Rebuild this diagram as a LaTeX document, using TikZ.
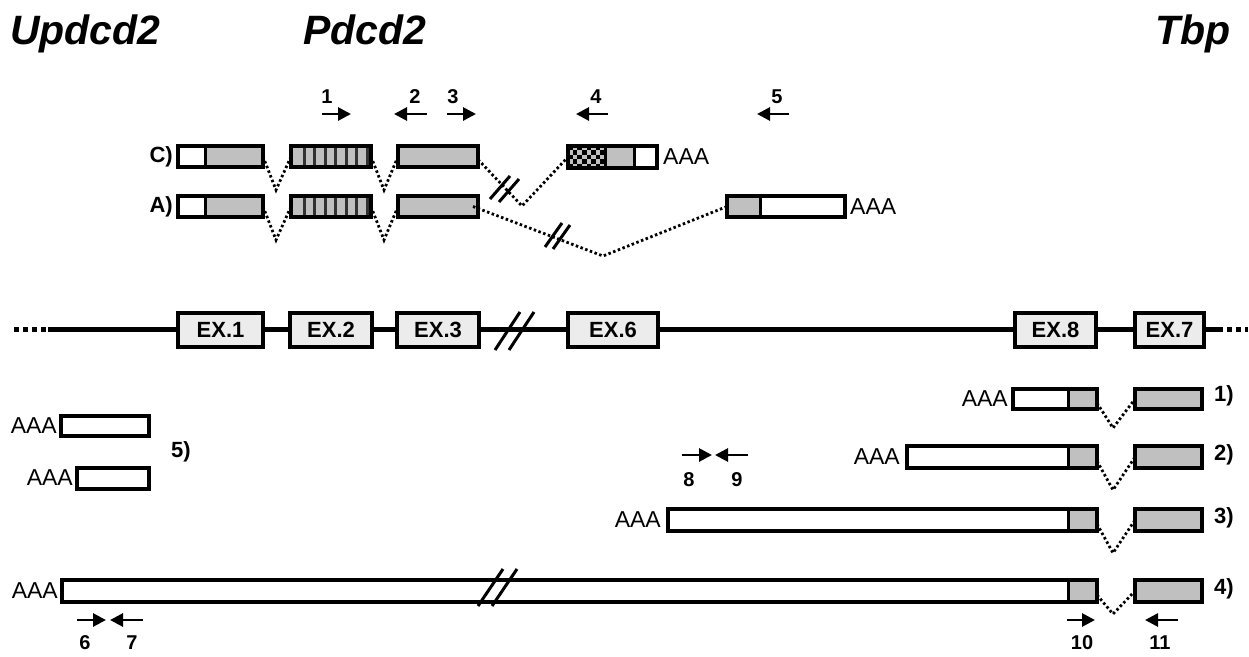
\documentclass[tikz,border=0pt]{standalone}
\usepackage{fontspec}
\setmainfont{Liberation Sans}
\usetikzlibrary{arrows.meta,fit}
\definecolor{boxgray}{RGB}{192,192,192}
\definecolor{exfill}{RGB}{236,236,236}
\definecolor{stripecol}{RGB}{50,50,50}
\begin{document}
\begin{tikzpicture}[x=1pt,y=-1pt,
  tb/.style={draw=black,line width=3.8pt,inner sep=0pt,outer sep=0pt,shape=rectangle},
  divider/.style={line width=3pt},
  exon/.style={draw=black,fill=exfill,line width=4.5pt,inner sep=0pt,outer sep=0pt,minimum height=34pt,font=\fontsize{22}{24}\selectfont\bfseries},
  splice/.style={line width=2.8pt,dash pattern=on 2.5pt off 2.5pt},
  primer/.style={line width=2.8pt,-{Triangle[length=13pt,width=13pt]}},
  num/.style={inner sep=0pt,font=\fontsize{20}{22}\selectfont\bfseries},
  lab/.style={inner sep=0pt,font=\fontsize{22}{24}\selectfont\bfseries},
  aaa/.style={inner sep=0pt,font=\fontsize{23}{25}\selectfont},
  ttl/.style={inner sep=0pt,font=\fontsize{41}{44}\selectfont\bfseries\itshape},
  brk/.style={line width=3pt},
  gline/.style={line width=5pt},
  gdots/.style={line width=5pt,dash pattern=on 5pt off 4pt}]

\useasboundingbox (0,0) rectangle (1249,656);

% ---------- titles
\node[ttl,anchor=base west] (t1) at (10,44) {Updcd2};
\node[ttl,anchor=base west] (t2) at (303,44) {Pdcd2};
\node[ttl,anchor=base east] (t3) at (1231,44) {Tbp};

% ---------- primers top
\coordinate (p1a) at (322,114); \coordinate (p1b) at (351,114);
\coordinate (p2a) at (427,114); \coordinate (p2b) at (394,114);
\coordinate (p3a) at (447,114); \coordinate (p3b) at (476,114);
\coordinate (p4a) at (608,114); \coordinate (p4b) at (576,114);
\coordinate (p5a) at (789,114); \coordinate (p5b) at (757,114);
\draw[primer] (p1a) -- (p1b);
\draw[primer] (p2a) -- (p2b);
\draw[primer] (p3a) -- (p3b);
\draw[primer] (p4a) -- (p4b);
\draw[primer] (p5a) -- (p5b);
\node[num] (n1) at (327,97) {1};
\node[num] (n2) at (415,97) {2};
\node[num] (n3) at (453,97) {3};
\node[num] (n4) at (596,97) {4};
\node[num] (n5) at (777,97) {5};

% ---------- transcript C
\fill[boxgray] (205,146) rectangle (263,167);
\fill[boxgray] (291,146) rectangle (371,167);
\foreach \x in {304,314.5,325,335.5,346,356.5,367}
  \draw[stripecol,line width=3pt] (\x,146) -- (\x,167);
\fill[boxgray] (398,146) rectangle (478,167);
\fill[boxgray] (568,146) rectangle (634,168);
\foreach \i in {0,...,7}{
  \foreach \j in {0,...,4}{
    \pgfmathtruncatemacro\pk{mod(\i+\j,2)}
    \ifnum\pk=0
      \fill[black] ({568+\i*4.625},{146+\j*4.4}) rectangle ({568+(\i+1)*4.625},{146+(\j+1)*4.4});
    \fi
  }
}
\node[tb,fit={(178,146) (263,167)}] (C1) {};
\draw[divider] (205,146) -- (205,167);
\node[tb,fit={(291,146) (371,167)}] (C2) {};
\node[tb,fit={(398,146) (478,167)}] (C3) {};
\node[tb,fit={(568,146) (657,168)}] (C4) {};
\draw[divider] (605,146) -- (605,168);
\draw[divider] (634,146) -- (634,168);
\node[aaa,anchor=west] (aC) at (663,157) {AAA};
\node[lab,anchor=east] (lC) at (173,157) {C)};

\coordinate (vC1) at (276,190);
\coordinate (vC2) at (384,190);
\coordinate (vC3) at (522,206);
\draw[splice] (C1.east) -- (vC1) -- (C2.west);
\draw[splice] (C2.east) -- (vC2) -- (C3.west);
\draw[splice] ([yshift=-3pt]C3.east) -- (vC3) -- (C4.west);
\draw[brk] (490,199) -- (510,176);
\draw[brk] (499,202) -- (519,179);

% ---------- transcript A
\fill[boxgray] (205,196) rectangle (263,217);
\fill[boxgray] (291,196) rectangle (371,217);
\foreach \x in {304,314.5,325,335.5,346,356.5,367}
  \draw[stripecol,line width=3pt] (\x,196) -- (\x,217);
\fill[boxgray] (398,196) rectangle (478,217);
\fill[boxgray] (727,196) rectangle (760,217);
\node[tb,fit={(178,196) (263,217)}] (A1) {};
\draw[divider] (205,196) -- (205,217);
\node[tb,fit={(291,196) (371,217)}] (A2) {};
\node[tb,fit={(398,196) (478,217)}] (A3) {};
\node[tb,fit={(727,196) (845,217)}] (A4) {};
\draw[divider] (760,196) -- (760,217);
\node[aaa,anchor=west] (aA) at (850,207) {AAA};
\node[lab,anchor=east] (lA) at (173,207) {A)};

\coordinate (vA1) at (276,240);
\coordinate (vA2) at (384,240);
\coordinate (vA3) at (603,256);
\draw[splice] (A1.east) -- (vA1) -- (A2.west);
\draw[splice] (A2.east) -- (vA2) -- (A3.west);
\draw[splice] ([xshift=-5pt]A3.east) -- (vA3) -- (A4.west);
\draw[brk] (545,247) -- (562,223);
\draw[brk] (553,249) -- (570,225);

% ---------- gene line
\draw[gdots] (14,329) -- (48,329);
\draw[gline] (48,329) -- (1218,329);
\draw[gdots] (1218,329) -- (1248,329);
\draw[brk] (495,350) -- (520,312);
\draw[brk] (509,350) -- (534,312);
\node[exon,minimum width=85pt] (E1) at (220.5,330) {EX.1};
\node[exon,minimum width=82pt] (E2) at (331,330) {EX.2};
\node[exon,minimum width=82pt] (E3) at (438,330) {EX.3};
\node[exon,minimum width=90pt] (E6) at (613,330) {EX.6};
\node[exon,minimum width=81pt] (E8) at (1055.5,330) {EX.8};
\node[exon,minimum width=69pt] (E7) at (1169.5,330) {EX.7};

% ---------- Tbp transcripts
% row 1
\fill[boxgray] (1068,389) rectangle (1097,409);
\fill[boxgray] (1135,389) rectangle (1202,409);
\node[tb,fit={(1013,389) (1097,409)}] (R1a) {};
\draw[divider] (1068,389) -- (1068,409);
\node[tb,fit={(1135,389) (1202,409)}] (R1b) {};
\node[aaa,anchor=east] (a1) at (1008,399) {AAA};
\coordinate (v1) at (1113,428);
\draw[splice] ([yshift=-4pt]R1a.east) -- (v1) -- (R1b.west);
\node[lab,anchor=west] (l1) at (1214,396) {1)};
% row 2
\fill[boxgray] (1068,446) rectangle (1097,468);
\fill[boxgray] (1135,446) rectangle (1202,468);
\node[tb,fit={(907,446) (1097,468)}] (R2a) {};
\draw[divider] (1068,446) -- (1068,468);
\node[tb,fit={(1135,446) (1202,468)}] (R2b) {};
\node[aaa,anchor=east] (a2) at (900,457) {AAA};
\coordinate (v2) at (1113,490);
\draw[splice] ([yshift=-4pt]R2a.east) -- (v2) -- (R2b.west);
\node[lab,anchor=west] (l2) at (1214,455) {2)};
% row 3
\fill[boxgray] (1068,509) rectangle (1097,531);
\fill[boxgray] (1135,509) rectangle (1202,531);
\node[tb,fit={(668,509) (1097,531)}] (R3a) {};
\draw[divider] (1068,509) -- (1068,531);
\node[tb,fit={(1135,509) (1202,531)}] (R3b) {};
\node[aaa,anchor=east] (a3) at (661,520) {AAA};
\coordinate (v3) at (1113,553);
\draw[splice] ([yshift=-4pt]R3a.east) -- (v3) -- (R3b.west);
\node[lab,anchor=west] (l3) at (1214,518) {3)};
% row 4
\fill[boxgray] (1068,580) rectangle (1097,602);
\fill[boxgray] (1135,580) rectangle (1202,602);
\node[tb,fit={(62,580) (1097,602)}] (R4a) {};
\draw[divider] (1068,580) -- (1068,602);
\node[tb,fit={(1135,580) (1202,602)}] (R4b) {};
\node[aaa,anchor=east] (a4) at (58,591) {AAA};
\coordinate (v4) at (1113,614);
\draw[splice] ([yshift=-4pt]R4a.east) -- (v4) -- (R4b.west);
\node[lab,anchor=west] (l4) at (1214,589) {4)};
\draw[brk] (478,606) -- (503,569);
\draw[brk] (492,606) -- (517,569);

% ---------- Updcd2 transcripts
\node[tb,fit={(61,416) (149,436)}] (U1) {};
\node[aaa,anchor=east] (au1) at (57,426) {AAA};
\node[tb,fit={(77,468) (149,489)}] (U2) {};
\node[aaa,anchor=east] (au2) at (73,478) {AAA};
\node[lab] (l5) at (181,452) {5)};

% ---------- lower primers
\coordinate (p6a) at (77,620);  \coordinate (p6b) at (106,620);
\coordinate (p7a) at (143,620); \coordinate (p7b) at (110,620);
\coordinate (p8a) at (682,455); \coordinate (p8b) at (712,455);
\coordinate (p9a) at (748,455); \coordinate (p9b) at (715,455);
\coordinate (p10a) at (1067,620); \coordinate (p10b) at (1095,620);
\coordinate (p11a) at (1178,620); \coordinate (p11b) at (1145,620);
\draw[primer] (p6a) -- (p6b);
\draw[primer] (p7a) -- (p7b);
\draw[primer] (p8a) -- (p8b);
\draw[primer] (p9a) -- (p9b);
\draw[primer] (p10a) -- (p10b);
\draw[primer] (p11a) -- (p11b);
\node[num] (n6) at (85,643) {6};
\node[num] (n7) at (132,643) {7};
\node[num] (n8) at (689,480) {8};
\node[num] (n9) at (737,480) {9};
\node[num] (n10) at (1082,643) {10};
\node[num] (n11) at (1160,643) {11};
\end{tikzpicture}
\end{document}
